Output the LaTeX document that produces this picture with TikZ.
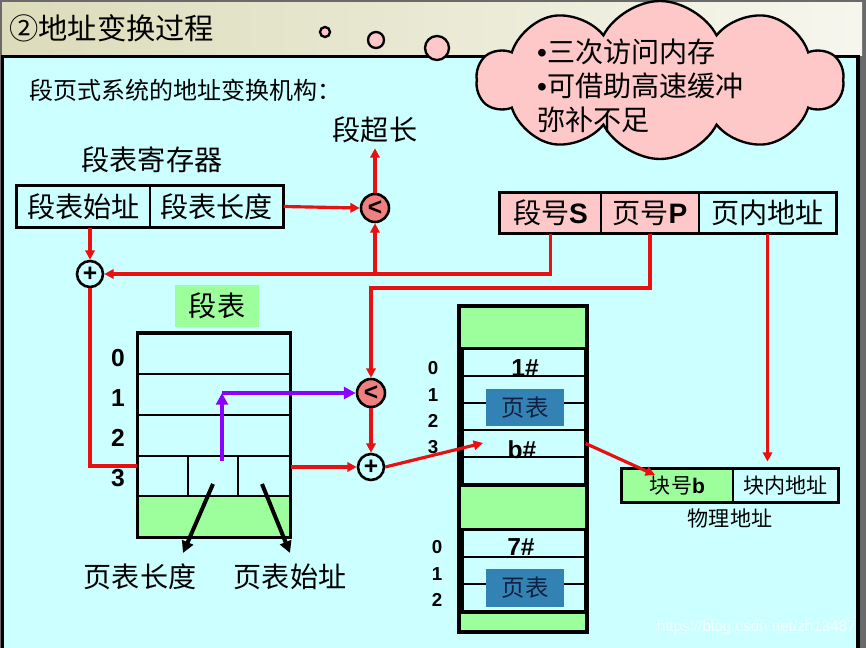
\documentclass[tikz,border=0pt]{standalone}
\usepackage{fontspec}
\setmainfont{Liberation Sans}
\newfontfamily\cjk{Noto Sans CJK SC}
\usetikzlibrary{arrows.meta,shapes.symbols,positioning}
\definecolor{panel}{HTML}{CCFFFF}
\definecolor{bandL}{HTML}{DCDCBA}
\definecolor{bandR}{HTML}{F6F6EE}
\definecolor{rim}{HTML}{6A6A6A}
\definecolor{leaf}{HTML}{9CFF9C}
\definecolor{rose}{HTML}{FFC8C8}
\definecolor{salmon}{HTML}{F08080}
\definecolor{redline}{HTML}{E81010}
\definecolor{plum}{HTML}{8C00FF}
\definecolor{steel}{HTML}{3382B4}
\definecolor{ink}{HTML}{102040}
\newcommand\fsz[1]{\fontsize{#1}{#1}\selectfont}
\newcommand\lat[1]{{\rmfamily\bfseries #1}}
\begin{document}
\begin{tikzpicture}[x=0.3mm,y=-0.3mm,
	wh/.style 2 args={minimum width=#1*0.3mm,minimum height=#2*0.3mm},
	box/.style={draw,line width=1.2pt,inner sep=0,font=\cjk\fsz{24}},
	frame/.style={line width=3pt},
	cmp/.style={circle,draw,line width=2.2pt,fill=salmon,minimum size=8.4mm,inner sep=0,font=\bfseries\fsz{21}},
	add/.style={circle,draw,line width=2.2pt,fill=panel,minimum size=7.8mm,inner sep=0,font=\bfseries\fsz{21}},
	feed/.style={draw=redline,line width=2.7pt},
	link/.style={feed,-{Triangle[length=8pt,width=8pt]}},
	hop/.style={draw=plum,line width=3.4pt,-{Triangle[length=10pt,width=10pt]}},
	ptr/.style={draw=black,line width=3.4pt,-{Triangle[length=10pt,width=10pt]}},
	label/.style={font=\cjk\fsz{24},inner sep=0},
	num/.style={font=\bfseries\fsz{21},inner sep=0},
	mnum/.style={font=\bfseries\fsz{16},inner sep=0},
	tag/.style={font=\bfseries\fsz{21},inner sep=0}]
	\useasboundingbox (0,0) rectangle (866,648);
	\fill[rim] (0,0) rectangle (866,648);
	\shade[left color=bandL,right color=bandR] (2,3) rectangle (862,56);
	\fill[panel] (3,56) rectangle (858,648);
	\draw[line width=3pt] (2.5,648) |- (858,56.5) -- (858,648);
	\node[anchor=west,font=\cjk\fsz{25},inner sep=0] (title) at (9,28) {②地址变换过程};
	\foreach \x/\y/\r in {325/32/5,376/40/8,437/48/12}
		\filldraw[fill=rose,line width=2pt] (\x,\y) circle[radius=\r*0.3mm];
	\node[cloud,cloud puffs=10,cloud puff arc=125,aspect=2.4,draw,line width=2pt,fill=rose,wh={366}{158}] (bubble) at (660,80) {};
	\node[anchor=west,align=left,inner sep=0,font=\cjk\fontsize{24}{29}\selectfont] (note) at (537,86) {{\rmfamily •}三次访问内存\\{\rmfamily •}可借助高速缓冲\\弥补不足};
	\node[anchor=west,font=\cjk\fsz{20.5},inner sep=0] (caption) at (29,90) {段页式系统的地址变换机构：};

	\node[label] (regname) at (152,160) {段表寄存器};
	\node[box,wh={133}{41}] (rbase) at (83.5,206.5) {段表始址};
	\node[box,wh={133}{41}] (rlen) at (216.5,206.5) {段表长度};
	\draw[frame] (rbase.north west) rectangle (rlen.south east);

	\node[box,wh={101}{40},fill=rose] (segno) at (550.5,213) {段号\lat{S}};
	\node[box,wh={98}{40},fill=rose] (pageno) at (650,213) {页号\lat{P}};
	\node[box,wh={137}{40}] (offs) at (767.5,213) {页内地址};
	\draw[frame] (segno.north west) rectangle (offs.south east);

	\node[cmp] (cmp1) at (375,208) {<};
	\node[add] (add1) at (90,274) {+};
	\node[cmp] (cmp2) at (371,393) {<};
	\node[add] (add2) at (371,467) {+};
	\node[label] (over) at (375,130) {段超长};

	\node[label,fill=leaf,wh={84}{42}] (stitle) at (217,306) {段表};
	\foreach \i/\y in {0/354,1/394.5,2/435.5}
		\node[box,wh={152}{41}] (srow\i) at (214,\y) {};
	\node[box,wh={50}{40}] (sr3a) at (163,476) {};
	\node[box,wh={50}{40}] (sr3b) at (213,476) {};
	\node[box,wh={52}{40}] (sr3c) at (264,476) {};
	\node[box,wh={152}{41},fill=leaf] (sfoot) at (214,516.5) {};
	\draw[frame] (srow0.north west) rectangle (sfoot.south east);
	\foreach \i/\y in {0/358,1/398,2/438,3/478}
		\node[num] (sn\i) at (118,\y) {\i};

	\node[draw,frame,fill=leaf,wh={128}{326}] (mem) at (523,469) {};
	\foreach \i/\y in {0/362.5,1/389.5,2/416.5,3/443.5,4/471}
		\node[box,fill=panel,wh={122}{27}] (pa\i) at (524,\y) {};
	\draw[frame] (pa0.north west) rectangle (pa4.south east);
	\foreach \i/\y in {0/543.5,1/570.5,2/598}
		\node[box,fill=panel,wh={122}{27}] (pb\i) at (524,\y) {};
	\draw[frame] (pb0.north west) rectangle (pb2.south east);
	\node[tag] (one) at (525,368) {1\#};
	\node[tag] (bno) at (522,450) {b\#};
	\node[tag] (seven) at (521,547) {7\#};
	\node[fill=steel,wh={78}{37},font=\cjk\fsz{20},text=ink] (ptab1) at (525,407.5) {页表};
	\node[fill=steel,wh={78}{38},font=\cjk\fsz{20},text=ink] (ptab2) at (525,588) {页表};
	\foreach \i/\y in {0/368,1/395,2/421,3/447}
		\node[mnum] (ma\i) at (433,\y) {\i};
	\foreach \i/\y in {0/547,1/574,2/600}
		\node[mnum] (mb\i) at (437,\y) {\i};

	\node[box,wh={111}{33},fill=leaf,font=\cjk\fsz{18}] (pblk) at (677.5,485.5) {块号\lat{b}};
	\node[box,wh={105}{33},font=\cjk\fsz{18}] (poff) at (785.5,485.5) {块内地址};
	\draw[frame] (pblk.north west) rectangle (poff.south east);
	\node[font=\cjk\fsz{18},inner sep=0] (phys) at (730,518) {物理地址};

	\node[label] (plen) at (140,577) {页表长度};
	\node[label] (pbase) at (290,577) {页表始址};
	\node[anchor=east,font=\fsz{13},text=white!75!panel,inner sep=0] (mark) at (856,628) {https://blog.csdn.net/zh13487};

	\coordinate (pturn) at (371,288);
	\coordinate (pstart) at (222,461);
	\coordinate (pmid) at (222,393);
	\coordinate (bentry) at (483,443);
	\coordinate (bexit) at (655,475);
	\coordinate (lenfrom) at (213,484);
	\coordinate (lento) at (183,553);
	\coordinate (basefrom) at (262,484);
	\coordinate (baseto) at (290,553);

	\draw[link] (rlen.east) -- (cmp1.west);
	\draw[link,shorten >=1.5mm] (cmp1.north) -- (over.south);
	\draw[link] (add1.north |- rbase.south) -- (add1.north);
	\draw[link] (segno.south) |- (add1.east);
	\draw[link] (cmp1 |- add1) -- (cmp1.south);
	\draw[link] (pageno.south) |- (pturn) -- (cmp2.north);
	\draw[link,shorten >=2mm] (offs.south) -- (offs.south |- poff.north);
	\draw[feed] (add1.south) |- ([yshift=3mm]sr3a.west);
	\draw[link] (sr3c.east |- add2.west) -- (add2.west);
	\draw[hop] (pstart) -- (pmid);
	\draw[hop] (pmid) -- (cmp2.west);
	\draw[link] (cmp2.south) -- (add2.north);
	\draw[link] (add2.east) -- (bentry);
	\draw[link] (pa3.east) -- (bexit);
	\draw[ptr] (lenfrom) -- (lento);
	\draw[ptr] (basefrom) -- (baseto);
\end{tikzpicture}
\end{document}
